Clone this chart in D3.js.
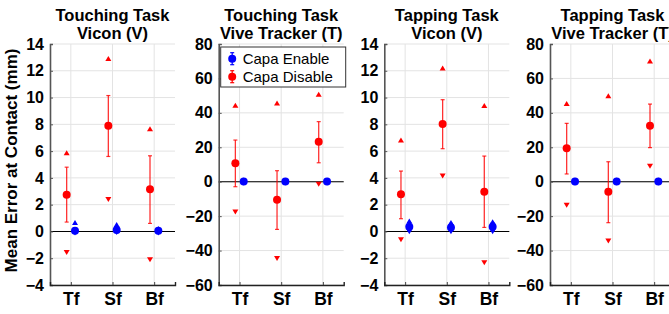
<!DOCTYPE html>
<html>
<head>
<meta charset="utf-8">
<script src="https://cdn.jsdelivr.net/npm/d3@7"></script>
<style>
  body { margin: 0; background: #fff; }
  svg { display: block; font-family: "Liberation Sans", Arial, sans-serif; }
</style>
</head>
<body>
<svg id="chart" width="669" height="314"></svg>
<script>
// categories and panels
const categories = ["Tf", "Sf", "Bf"];
const panelTitles = [
  ["Touching Task", "Vicon (V)"],
  ["Touching Task", "Vive Tracker (T)"],
  ["Tapping Task", "Vicon (V)"],
  ["Tapping Task", "Vive Tracker (T)"]
];
const viconTicks = [-4, -2, 0, 2, 4, 6, 8, 10, 12, 14];
const viveTicks = [-60, -40, -20, 0, 20, 40, 60, 80];

// Capa Disable (red): mean, error-bar low/high, max (up triangle), min (down triangle)
const disableMean = [[2.75, 7.9, 3.15], [10.7, -10.5, 23.2], [2.77, 8.02, 2.97], [19.4, -5.8, 32.5]];
const disableLow  = [[0.7, 5.6, 0.6], [-2.9, -27.7, 11.0], [0.95, 6.18, 0.3], [4.5, -23.8, 19.8]];
const disableHigh = [[4.8, 10.15, 5.65], [24.2, 6.4, 34.9], [4.51, 9.84, 5.63], [33.9, 11.6, 45.1]];
const disableMax  = [[5.85, 12.9, 7.65], [44.2, 45.5, 50.6], [6.8, 12.18, 9.39], [45.3, 49.8, 69.9]];
const disableMin  = [[-1.55, 2.4, -2.1], [-17.4, -44.5, -1.3], [-0.59, 4.16, -2.31], [-13.5, -34.3, 9.1]];

// Capa Enable (blue)
const enableMean = [[0.05, 0.1, 0.05], [0.1, 0.1, 0.1], [0.35, 0.3, 0.35], [0.1, 0.1, 0.1]];
const enableLow  = [[-0.05, 0.0, -0.05], [-0.3, -0.3, -0.3], [0.05, 0.05, 0.05], [-0.3, -0.3, -0.3]];
const enableHigh = [[0.2, 0.3, 0.15], [0.5, 0.5, 0.5], [0.65, 0.6, 0.65], [0.5, 0.5, 0.5]];
const enableMax  = [[0.65, 0.5, 0.2], [0.8, 0.7, 0.7], [0.75, 0.65, 0.7], [0.8, 0.8, 0.8]];
const enableMin  = [[-0.1, -0.05, -0.1], [-0.5, -0.5, -0.5], [0.0, 0.0, 0.0], [-0.5, -0.5, -0.5]];

const svg = d3.select("#chart");

const panelLefts = [50, 218.7, 384.3, 550];
const panelW = 125;
const plotTop = 44, plotBottom = 285;
const red = "#ff0000", blue = "#0000ff";

function triUp(cx, cy) {
  return `M${cx - 3},${cy + 2.2}L${cx + 3},${cy + 2.2}L${cx},${cy - 2.8}Z`;
}
function triDown(cx, cy) {
  return `M${cx - 3},${cy - 2.2}L${cx + 3},${cy - 2.2}L${cx},${cy + 2.8}Z`;
}

panelTitles.forEach((title, p) => {
  const isVicon = p % 2 === 0;
  const ticks = isVicon ? viconTicks : viveTicks;
  const x = d3.scaleLinear().domain([0.5, 3.5]).range([0, panelW]);
  const y = d3.scaleLinear().domain(d3.extent(ticks)).range([plotBottom, plotTop]);

  const g = svg.append("g").attr("transform", `translate(${panelLefts[p]},0)`);

  // grid
  g.append("g").selectAll("line.hgrid")
    .data(ticks)
    .enter().append("line")
    .attr("x1", 0).attr("x2", panelW)
    .attr("y1", d => y(d)).attr("y2", d => y(d))
    .attr("stroke", "#e3e3e3").attr("stroke-width", 1);
  g.append("g").selectAll("line.vgrid")
    .data(categories)
    .enter().append("line")
    .attr("x1", (d, i) => x(i + 1)).attr("x2", (d, i) => x(i + 1))
    .attr("y1", plotTop).attr("y2", plotBottom)
    .attr("stroke", "#e3e3e3").attr("stroke-width", 1);

  // zero line
  g.append("line")
    .attr("x1", 0).attr("x2", panelW)
    .attr("y1", y(0)).attr("y2", y(0))
    .attr("stroke", "#000").attr("stroke-width", 1.1);

  // y axis
  const yAxis = g.append("g")
    .call(d3.axisLeft(y).tickValues(ticks).tickSize(-3).tickPadding(6));
  yAxis.select(".domain").attr("stroke", "#555").attr("stroke-width", 1.6);
  yAxis.selectAll(".tick line").attr("stroke", "#555");
  yAxis.selectAll("text")
    .attr("font-size", 16).attr("font-weight", "bold").attr("fill", "#000")
    .attr("font-family", "Liberation Sans, Arial, sans-serif");

  // x axis
  const xAxis = g.append("g")
    .attr("transform", `translate(0,${plotBottom})`)
    .call(d3.axisBottom(x).tickValues([1, 2, 3]).tickFormat((d, i) => categories[i]).tickSize(-3).tickPadding(8));
  xAxis.select(".domain").attr("stroke", "#222").attr("stroke-width", 1.4);
  xAxis.selectAll(".tick line").attr("stroke", "#444");
  xAxis.selectAll("text")
    .attr("font-size", 17.5).attr("font-weight", "bold").attr("fill", "#000")
    .attr("font-family", "Liberation Sans, Arial, sans-serif");

  // title
  g.append("text")
    .attr("x", panelW / 2).attr("y", 21)
    .attr("text-anchor", "middle")
    .attr("font-size", 16.5).attr("font-weight", "bold")
    .text(title[0]);
  g.append("text")
    .attr("x", panelW / 2).attr("y", 39)
    .attr("text-anchor", "middle")
    .attr("font-size", 16.5).attr("font-weight", "bold")
    .text(title[1]);

  // series
  const series = [
    { color: red, off: -0.1, mean: disableMean[p], lo: disableLow[p], hi: disableHigh[p], mx: disableMax[p], mn: disableMin[p] },
    { color: blue, off: 0.1, mean: enableMean[p], lo: enableLow[p], hi: enableHigh[p], mx: enableMax[p], mn: enableMin[p] }
  ];

  series.forEach(s => {
    const sg = g.append("g");
    categories.forEach((c, i) => {
      const cx = x(i + 1 + s.off);
      sg.append("path").attr("d", triUp(cx, y(s.mx[i]))).attr("fill", s.color);
      sg.append("path").attr("d", triDown(cx, y(s.mn[i]))).attr("fill", s.color);
      sg.append("line")
        .attr("x1", cx).attr("x2", cx)
        .attr("y1", y(s.lo[i])).attr("y2", y(s.hi[i]))
        .attr("stroke", s.color).attr("stroke-width", 1.3).attr("opacity", 0.8);
      [s.lo[i], s.hi[i]].forEach(v => {
        sg.append("line")
          .attr("x1", cx - 2).attr("x2", cx + 2)
          .attr("y1", y(v)).attr("y2", y(v))
          .attr("stroke", s.color).attr("stroke-width", 1.2).attr("opacity", 0.8);
      });
      sg.append("circle")
        .attr("cx", cx).attr("cy", y(s.mean[i]))
        .attr("r", 4).attr("fill", s.color);
    });
  });

  // legend in second panel
  if (p === 1) {
    const lg = g.append("g").attr("transform", "translate(2,47)");
    lg.append("rect")
      .attr("x", 0).attr("y", 0).attr("width", 125).attr("height", 40)
      .attr("fill", "#fff").attr("stroke", "#333").attr("stroke-width", 1);
    const items = [{ label: "Capa Enable", color: blue }, { label: "Capa Disable", color: red }];
    items.forEach((it, k) => {
      const ly = 11.7 + k * 18;
      lg.append("line").attr("x1", 11.5).attr("x2", 11.5).attr("y1", ly - 6).attr("y2", ly + 6)
        .attr("stroke", it.color).attr("stroke-width", 1.2);
      [ly - 6, ly + 6].forEach(v => lg.append("line")
        .attr("x1", 9.5).attr("x2", 13.5).attr("y1", v).attr("y2", v)
        .attr("stroke", it.color).attr("stroke-width", 1.2));
      lg.append("circle").attr("cx", 11.5).attr("cy", ly).attr("r", 4).attr("fill", it.color);
      lg.append("text").attr("x", 22).attr("y", ly + 5.3)
        .attr("font-size", 15).text(it.label);
    });
  }
});

// shared y label
svg.append("text")
  .attr("transform", `translate(17,${(plotTop + plotBottom) / 2 - 4}) rotate(-90)`)
  .attr("text-anchor", "middle")
  .attr("font-size", 17).attr("font-weight", "bold")
  .text("Mean Error at Contact (mm)");
</script>
</body>
</html>
